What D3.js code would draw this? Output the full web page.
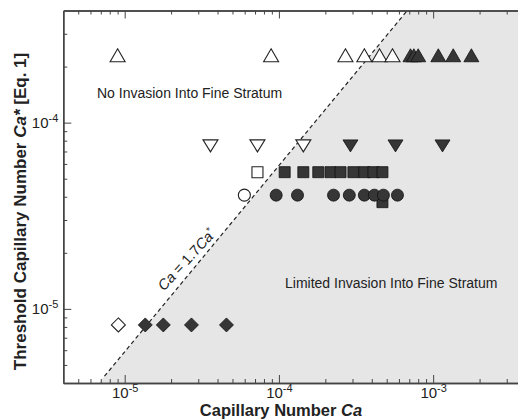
<!DOCTYPE html>
<html>
<head>
<meta charset="utf-8">
<script src="https://cdn.jsdelivr.net/npm/d3@7"></script>
<style>
  body { margin: 0; background: #fff; }
  svg { display: block; font-family: "Liberation Sans", Arial, Helvetica, sans-serif; }
</style>
</head>
<body>
<div id="chart"></div>
<script>
// values: Ca (x) and Ca* (y)
const triUpCaStar = 2.3e-4;
const triUpOpenCa = [9.0e-6, 8.9e-5, 2.7e-4, 3.58e-4, 4.49e-4, 5.45e-4];
const triUpFilledCa = [7.13e-4, 7.5e-4, 8.0e-4, 1.08e-3, 1.35e-3, 1.77e-3];

const triDownCaStar = 7.5e-5;
const triDownOpenCa = [3.6e-5, 7.26e-5, 1.44e-4];
const triDownFilledCa = [2.91e-4, 5.7e-4, 1.15e-3];

const squareCaStar = 5.42e-5;
const squareOpenCa = [7.26e-5];
const squareFilledCa = [1.09e-4, 1.44e-4, 1.8e-4, 2.16e-4, 2.51e-4, 3.04e-4, 3.58e-4, 4.1e-4, 4.69e-4];
const squareExtra = [[4.69e-4, 3.74e-5]];

const circleCaStar = 4.08e-5;
const circleOpenCa = [5.97e-5];
const circleFilledCa = [9.6e-5, 1.32e-4, 2.26e-4, 2.86e-4, 3.58e-4, 4.16e-4, 4.76e-4, 5.87e-4];

const diamondCaStar = 8.2e-6;
const diamondOpenCa = [9.1e-6];
const diamondFilledCa = [1.36e-5, 1.78e-5, 2.71e-5, 4.57e-5];

const lineFactor = 1.7;           // Ca = 1.7 Ca*
const xDomain = [4e-6, 4e-3];
const yDomain = [4e-6, 4e-4];
const xMajor = [1e-5, 1e-4, 1e-3];
const yMajor = [1e-5, 1e-4];
const xExp = ["-5", "-4", "-3"];
const yExp = ["-5", "-4"];

const W = 518, H = 419;
const plotLeft = 63.3, plotTop = 10.5, plotRight = 526, plotBottom = 383;

const svg = d3.select("#chart").append("svg")
    .attr("width", W)
    .attr("height", H);

const x = d3.scaleLog().domain(xDomain).range([plotLeft, plotRight]);
const y = d3.scaleLog().domain(yDomain).range([plotBottom, plotTop]);

// minor ticks 2..9 per decade
function minors(domain) {
  const out = [];
  for (let e = -7; e <= -2; e++)
    for (let m = 2; m <= 9; m++) {
      const v = m * Math.pow(10, e);
      if (v > domain[0] && v < domain[1]) out.push(v);
    }
  return out;
}

// shaded region right of the Ca = 1.7Ca* line
const region = [
  [x(lineFactor * yDomain[0]), y(yDomain[0])],
  [x(lineFactor * yDomain[1]), y(yDomain[1])],
  [plotRight, plotTop],
  [plotRight, plotBottom]
];
svg.append("polygon")
    .attr("points", region.map(p => p.join(",")).join(" "))
    .attr("fill", "#e6e6e7");

svg.append("line")
    .attr("x1", x(lineFactor * 4.35e-6)).attr("y1", y(4.35e-6))
    .attr("x2", x(lineFactor * yDomain[1])).attr("y2", y(yDomain[1]))
    .attr("stroke", "#222")
    .attr("stroke-width", 1.2)
    .attr("stroke-dasharray", "4,3");

// line label
const ang = Math.atan2(y(1e-5) - y(1e-4), x(1e-4) - x(1e-5)) * 180 / Math.PI;
const lab = svg.append("text")
    .attr("transform", `translate(${x(1.8e-5)},${y(1.24e-5)}) rotate(${-ang + 3})`)
    .attr("font-size", 14.5)
    .attr("fill", "#222");
lab.append("tspan").attr("font-style", "italic").text("Ca");
lab.append("tspan").text(" = 1.7");
lab.append("tspan").attr("font-style", "italic").text("Ca");
lab.append("tspan").attr("font-size", 10).attr("dy", -5).text("*");

// region labels
svg.append("text")
    .attr("x", 97).attr("y", 97.5)
    .attr("font-size", 14).attr("fill", "#222")
    .text("No Invasion Into Fine Stratum");
svg.append("text")
    .attr("x", 285).attr("y", 288)
    .attr("font-size", 14).attr("fill", "#222")
    .text("Limited Invasion Into Fine Stratum");

// marker shapes
const shapes = {
  triUp: "M0,-6.5L7.5,6.5L-7.5,6.5Z",
  triDown: "M0,6L7.5,-6L-7.5,-6Z",
  square: "M-5.5,-5.5H5.5V5.5H-5.5Z",
  circle: d3.arc()({ innerRadius: 0, outerRadius: 6, startAngle: 0, endAngle: 2 * Math.PI }),
  diamond: "M0,-7L7,0L0,7L-7,0Z"
};

function plot(shape, pts, filled) {
  svg.append("g").selectAll("path")
    .data(pts)
    .join("path")
      .attr("transform", d => `translate(${x(d[0])},${y(d[1])})`)
      .attr("d", shapes[shape])
      .attr("fill", filled ? "#363636" : "#fff")
      .attr("stroke", filled ? "#111" : "#222")
      .attr("stroke-width", filled ? 0.8 : 1.1);
}

const pair = (arr, cs) => arr.map(v => [v, cs]);

plot("triUp", pair(triUpOpenCa, triUpCaStar), false);
plot("triUp", pair(triUpFilledCa, triUpCaStar), true);
plot("triDown", pair(triDownOpenCa, triDownCaStar), false);
plot("triDown", pair(triDownFilledCa, triDownCaStar), true);
plot("square", squareExtra, true);
plot("circle", pair(circleOpenCa, circleCaStar), false);
plot("circle", pair(circleFilledCa, circleCaStar), true);
plot("square", pair(squareOpenCa, squareCaStar), false);
plot("square", pair(squareFilledCa, squareCaStar), true);
plot("diamond", pair(diamondOpenCa, diamondCaStar), false);
plot("diamond", pair(diamondFilledCa, diamondCaStar), true);

// axes (ticks point inward)
function styleAxis(g) {
  g.select(".domain").attr("stroke", "#444").attr("stroke-width", 1.4);
  g.selectAll(".tick line").attr("stroke", "#444").attr("stroke-width", 1);
}

function supLabels(g, exps, isY) {
  g.selectAll(".tick text").each(function(d, i) {
    const t = d3.select(this).text(null)
      .attr("font-size", 15)
      .attr("fill", "#222")
      .attr("font-family", "'Liberation Sans', Arial, sans-serif");
    t.append("tspan").text("10");
    t.append("tspan").attr("font-size", 11).attr("dy", -6).text(exps[i]);
    if (isY) t.attr("text-anchor", "end").attr("x", -5).attr("dy", 4.5);
    else t.attr("y", 14.5).attr("dy", 0);
  });
}

svg.append("g")
    .attr("transform", `translate(0,${plotBottom})`)
    .call(d3.axisBottom(x).tickValues(minors(xDomain)).tickSizeInner(-4).tickSizeOuter(0).tickFormat(""))
    .call(styleAxis);
svg.append("g")
    .attr("transform", `translate(0,${plotBottom})`)
    .call(d3.axisBottom(x).tickValues(xMajor).tickSizeInner(-8).tickSizeOuter(0))
    .call(styleAxis)
    .call(g => supLabels(g, xExp, false));

svg.append("g")
    .attr("transform", `translate(0,${plotTop})`)
    .call(d3.axisTop(x).tickValues(minors(xDomain)).tickSizeInner(-4).tickSizeOuter(0).tickFormat(""))
    .call(styleAxis);
svg.append("g")
    .attr("transform", `translate(0,${plotTop})`)
    .call(d3.axisTop(x).tickValues(xMajor).tickSizeInner(-8).tickSizeOuter(0).tickFormat(""))
    .call(styleAxis);

svg.append("g")
    .attr("transform", `translate(${plotLeft},0)`)
    .call(d3.axisLeft(y).tickValues(minors(yDomain)).tickSizeInner(-4).tickSizeOuter(0).tickFormat(""))
    .call(styleAxis);
svg.append("g")
    .attr("transform", `translate(${plotLeft},0)`)
    .call(d3.axisLeft(y).tickValues(yMajor).tickSizeInner(-8).tickSizeOuter(0))
    .call(styleAxis)
    .call(g => supLabels(g, yExp, true));

// axis titles
const xt = svg.append("text")
    .attr("x", 281).attr("y", 416)
    .attr("text-anchor", "middle")
    .attr("font-size", 16.5).attr("font-weight", "bold").attr("fill", "#222");
xt.append("tspan").text("Capillary Number ");
xt.append("tspan").attr("font-style", "italic").text("Ca");

const yt = svg.append("text")
    .attr("transform", `translate(26,211.5) rotate(-90)`)
    .attr("text-anchor", "middle")
    .attr("font-size", 17).attr("font-weight", "bold").attr("fill", "#222");
yt.append("tspan").text("Threshold Capillary Number ");
yt.append("tspan").attr("font-style", "italic").text("Ca*");
yt.append("tspan").text(" [Eq. 1]");
</script>
</body>
</html>
